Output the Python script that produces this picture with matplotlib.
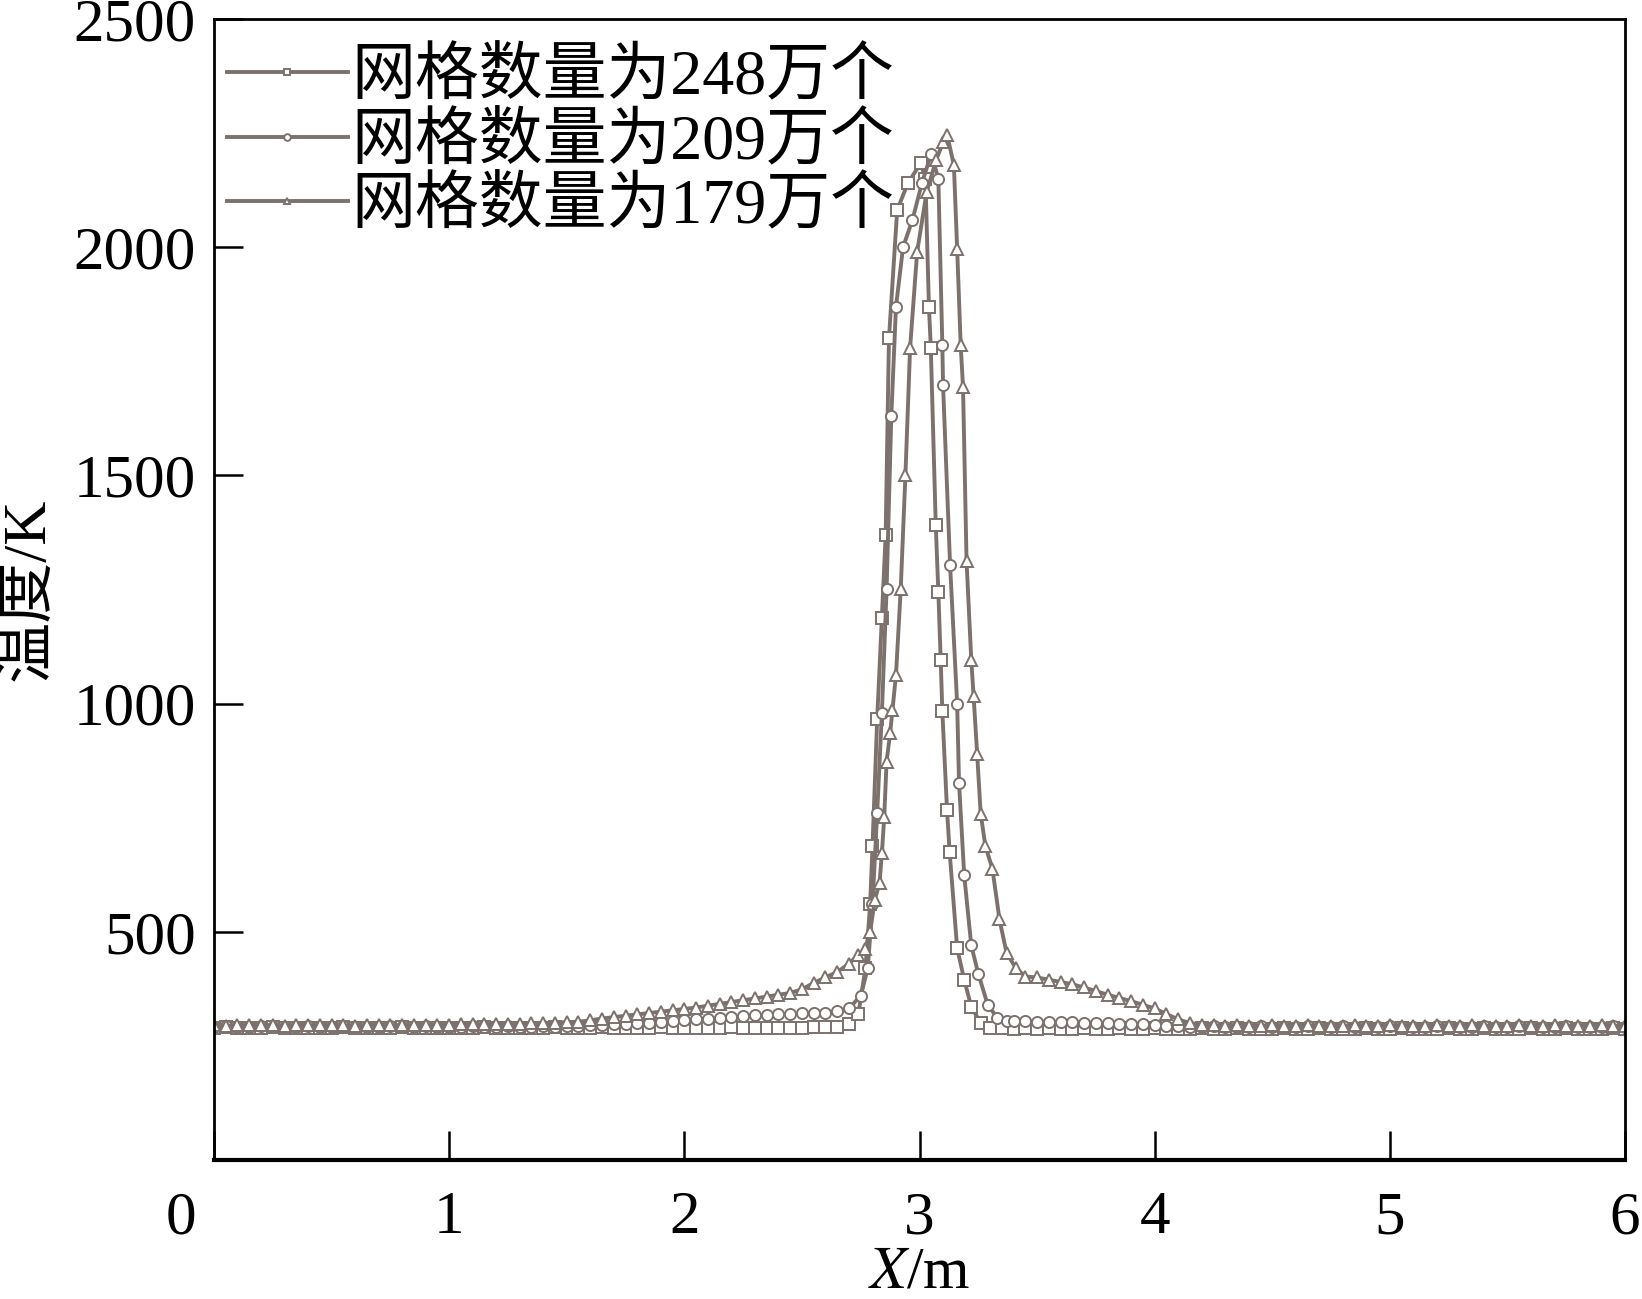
import numpy as np
import matplotlib
matplotlib.use('Agg')
import matplotlib.pyplot as plt

plt.rcParams['font.family'] = ['Liberation Serif', 'Noto Sans CJK SC', 'DejaVu Sans']
plt.rcParams['mathtext.fontset'] = 'stix'

# shared grids for the flat tails (m)
x_left = [0.00, 0.05, 0.10, 0.15, 0.20, 0.25, 0.30, 0.35, 0.40, 0.45,
          0.50, 0.55, 0.60, 0.65, 0.70, 0.75, 0.80, 0.85, 0.90, 0.95,
          1.00, 1.05, 1.10, 1.15, 1.20, 1.25, 1.30, 1.35, 1.40, 1.45,
          1.50, 1.55, 1.60, 1.65, 1.70, 1.75, 1.80, 1.85, 1.90, 1.95,
          2.00, 2.05, 2.10, 2.15, 2.20, 2.25, 2.30, 2.35, 2.40, 2.45,
          2.50, 2.55]
x_right = [3.45, 3.50, 3.55, 3.60, 3.65, 3.70, 3.75, 3.80, 3.85, 3.90,
           3.95, 4.00, 4.05, 4.10, 4.15, 4.20, 4.25, 4.30, 4.35, 4.40,
           4.45, 4.50, 4.55, 4.60, 4.65, 4.70, 4.75, 4.80, 4.85, 4.90,
           4.95, 5.00, 5.05, 5.10, 5.15, 5.20, 5.25, 5.30, 5.35, 5.40,
           5.45, 5.50, 5.55, 5.60, 5.65, 5.70, 5.75, 5.80, 5.85, 5.90,
           5.95, 6.00]

# 248万 (squares)
t248_left = [290, 291, 289, 290, 290, 291, 290, 289, 290, 290,
             290, 291, 290, 290, 289, 290, 291, 290, 290, 290,
             289, 290, 290, 291, 290, 290, 290, 289, 290, 291,
             290, 290, 290, 291, 290, 289, 290, 290, 291, 290,
             290, 290, 289, 290, 291, 290, 290, 290, 289, 290,
             290, 291]
x248_peak = [2.60, 2.65, 2.70, 2.74, 2.77, 2.79, 2.80, 2.82, 2.84, 2.856,
             2.87, 2.905, 2.95, 3.005, 3.025, 3.04, 3.048, 3.069, 3.08, 3.09,
             3.097, 3.117, 3.128, 3.16, 3.19, 3.22, 3.26, 3.30, 3.35, 3.40]
t248_peak = [291, 292, 298, 320, 420, 560, 687, 966, 1187, 1369,
             1800, 2081, 2140, 2184, 2150, 1870, 1779, 1392, 1245, 1096,
             983, 766, 675, 464, 395, 336, 300, 290, 289, 288]
t248_right = [289, 288, 289, 288, 288, 289, 288, 288, 289, 288,
              288, 289, 288, 288, 288, 289, 288, 288, 289, 288,
              288, 288, 289, 288, 288, 289, 288, 288, 288, 289,
              288, 288, 289, 288, 288, 288, 289, 288, 288, 289,
              288, 288, 288, 289, 288, 288, 289, 288, 288, 288,
              289, 288]

# 209万 (circles)
t209_left = [292, 293, 292, 292, 293, 292, 292, 292, 293, 292,
             292, 293, 292, 292, 292, 293, 292, 292, 293, 292,
             292, 292, 293, 292, 292, 293, 292, 292, 293, 292,
             293, 294, 295, 296, 297, 298, 300, 301, 303, 304,
             306, 308, 309, 311, 313, 315, 317, 318, 319, 320,
             321, 322]
x209_peak = [2.60, 2.65, 2.70, 2.75, 2.78, 2.80, 2.82, 2.84, 2.86, 2.88,
             2.90, 2.93, 2.97, 3.01, 3.05, 3.08, 3.097, 3.10, 3.13, 3.16,
             3.168, 3.19, 3.22, 3.25, 3.29, 3.33, 3.37, 3.40]
t209_peak = [323, 326, 332, 360, 420, 560, 760, 980, 1250, 1630,
             1870, 2000, 2060, 2140, 2205, 2150, 1786, 1698, 1303, 1000,
             826, 624, 470, 408, 340, 312, 305, 304]
t209_right = [304, 303, 303, 302, 302, 301, 301, 300, 299, 298,
              297, 296, 294, 293, 292, 292, 293, 292, 292, 292,
              293, 292, 292, 292, 293, 292, 292, 293, 292, 292,
              292, 293, 292, 292, 292, 293, 292, 292, 292, 293,
              292, 292, 293, 292, 292, 292, 293, 292, 292, 292,
              293, 292]

# 179万 (triangles)
t179_left = [295, 294, 295, 295, 296, 295, 294, 295, 295, 296,
             295, 295, 294, 295, 296, 295, 295, 295, 296, 295,
             296, 297, 297, 298, 298, 299, 299, 300, 300, 301,
             302, 303, 306, 310, 313, 316, 319, 322, 325, 328,
             331, 334, 338, 342, 346, 350, 354, 358, 362, 366,
             374, 388]
x179_peak = [2.60, 2.65, 2.70, 2.74, 2.77, 2.79, 2.81, 2.83, 2.84, 2.85,
             2.86, 2.875, 2.885, 2.90, 2.92, 2.94, 2.96, 2.99, 3.03, 3.07,
             3.10, 3.118, 3.146, 3.16, 3.175, 3.185, 3.20, 3.22, 3.23, 3.245,
             3.26, 3.28, 3.31, 3.34, 3.37, 3.41]
t179_peak = [400, 412, 430, 450, 462, 500, 570, 607, 672, 752,
             873, 935, 986, 1063, 1250, 1500, 1780, 1990, 2120, 2190,
             2230, 2245, 2180, 1997, 1786, 1693, 1312, 1096, 1016, 890,
             759, 688, 638, 527, 454, 420]
t179_right = [402, 400, 395, 390, 385, 378, 370, 362, 355, 348,
              340, 332, 320, 308, 300, 296, 295, 294, 295, 294,
              294, 295, 294, 294, 295, 294, 294, 294, 295, 294,
              294, 295, 294, 294, 294, 295, 294, 294, 295, 294,
              294, 294, 295, 294, 294, 295, 294, 294, 294, 295,
              294, 294]

labels = ['网格数量为248万个', '网格数量为209万个', '网格数量为179万个']
markers = ['s', 'o', '^']
xs = [x_left + x248_peak + x_right, x_left + x209_peak + x_right, x_left + x179_peak + x_right]
ts = [t248_left + t248_peak + t248_right, t209_left + t209_peak + t209_right,
      t179_left + t179_peak + t179_right]

col = '#7d716e'

fig = plt.figure(figsize=(16.42, 12.99), dpi=100)
ax = fig.add_axes([0.1303, 0.107, 0.8594, 0.8784])

for x, t, m, lab in zip(xs, ts, markers, labels):
    ax.plot(x, t, color=col, lw=2.8, marker=m, ms=8, mfc='white', mec=col,
            mew=1.4, label=lab)

ax.set_xlim(0, 6)
ax.set_ylim(0, 2500)
ax.set_xticks([0, 1, 2, 3, 4, 5, 6])
ax.set_xticklabels(['', '1', '2', '3', '4', '5', '6'])
ax.set_yticks([500, 1000, 1500, 2000, 2500])
ax.tick_params(direction='in', length=21, width=1.8, labelsize=44, top=False, right=False)
ax.tick_params(axis='x', pad=22)
ax.tick_params(axis='y', pad=13)
for sp in ax.spines.values():
    sp.set_linewidth(2.0)
ax.spines['bottom'].set_linewidth(3.0)

ax.annotate('0', xy=(0, 0), xycoords='axes fraction', xytext=(-24, -22),
            textcoords='offset points', ha='center', va='top', fontsize=44)

ax.set_xlabel('$\\mathit{X}$/m', fontsize=43, labelpad=0)
ax.set_ylabel('温度/K', fontsize=44, labelpad=12)

leg = ax.legend(loc='upper left', bbox_to_anchor=(0.0, 0.985), frameon=False,
                fontsize=46, markerscale=0.6, handlelength=1.9, handletextpad=0.05,
                labelspacing=0.08, borderaxespad=0.0, borderpad=0.2)

fig.savefig('out.png', dpi=100)
